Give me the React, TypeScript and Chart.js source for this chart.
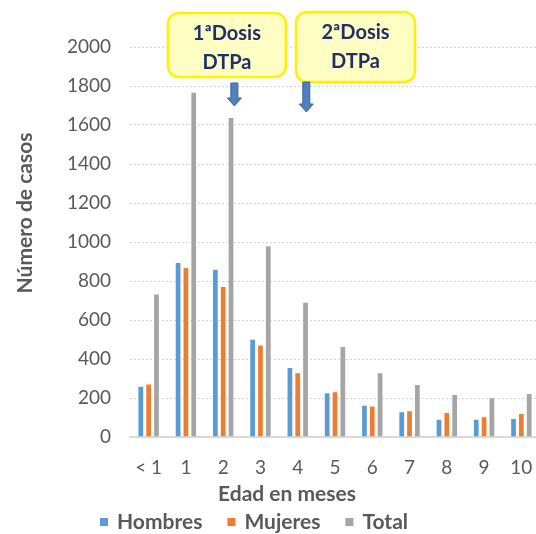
import React, { useEffect, useRef } from "react";
import { Chart, registerables } from "chart.js";

Chart.register(...registerables);

const categories = ["< 1", "1", "2", "3", "4", "5", "6", "7", "8", "9", "10"];
const hombres = [263, 897, 863, 504, 359, 229, 166, 132, 94, 94, 97];
const mujeres = [275, 872, 774, 475, 332, 234, 161, 137, 128, 106, 123];
const total = [736, 1770, 1641, 983, 694, 467, 332, 272, 221, 204, 226];
const seriesNames = ["Hombres", "Mujeres", "Total"];
const seriesColors = ["#5B9BD5", "#ED7D31", "#A5A5A5"];
const yMin = 0;
const yMax = 2000;
const yStep = 200;
const yTitle = "Número de casos";
const xTitle = "Edad en meses";
const doseLabels = [["1ªDosis", "DTPa"], ["2ªDosis", "DTPa"]];
const doseMonthIndex = [2, 4];

const FONT = "Lato, 'Open Sans', sans-serif";
const TEXT = "#595959";

const overlayPlugin = {
  id: "overlay",
  afterDraw(chart: any) {
    const ctx = chart.ctx;
    const xs = chart.scales.x;
    const cw = xs.width / categories.length;
    ctx.save();

    // axis titles
    ctx.fillStyle = TEXT;
    ctx.font = `bold 21px ${FONT}`;
    ctx.textAlign = "center";
    ctx.textBaseline = "middle";
    ctx.save();
    ctx.translate(25, 213);
    ctx.rotate(-Math.PI / 2);
    ctx.fillText(yTitle, 0, 0);
    ctx.restore();
    ctx.fillText(xTitle, 287, 494);

    // legend
    let lx = 100;
    const ly = 522;
    ctx.textAlign = "left";
    seriesNames.forEach((n, i) => {
      ctx.fillStyle = seriesColors[i];
      ctx.fillRect(lx, ly - 4, 8, 8);
      ctx.fillStyle = TEXT;
      ctx.fillText(n, lx + 17, ly);
      lx += 17 + ctx.measureText(n).width + 25;
    });

    // dose annotations
    const boxes = [
      { dc: 0.1, w: 118, top: 13, h: 64, ac: 0.3, aTop: 83, aTip: 106 },
      { dc: 1.55, w: 119, top: 12, h: 70, ac: 0.23, aTop: 82, aTip: 112 },
    ];
    doseLabels.forEach((lines, i) => {
      const b = boxes[i];
      const base = xs.getPixelForValue(doseMonthIndex[i]);
      const cx = base + b.dc * cw;
      ctx.beginPath();
      (ctx as any).roundRect(cx - b.w / 2, b.top, b.w, b.h, 11);
      ctx.fillStyle = "#FFFFC4";
      ctx.fill();
      ctx.lineWidth = 2.5;
      ctx.strokeStyle = "#FFF200";
      ctx.stroke();
      ctx.fillStyle = "#1F2F6B";
      ctx.font = `bold 20px ${FONT}`;
      ctx.textAlign = "center";
      ctx.textBaseline = "middle";
      ctx.fillText(lines[0], cx, b.top + 21);
      ctx.fillText(lines[1], cx, b.top + 50);

      // arrow
      const ax = base + b.ac * cw;
      const sw = 3.5;
      const hw = 7;
      const hh = 8;
      ctx.beginPath();
      ctx.moveTo(ax - sw, b.aTop);
      ctx.lineTo(ax + sw, b.aTop);
      ctx.lineTo(ax + sw, b.aTip - hh);
      ctx.lineTo(ax + hw, b.aTip - hh);
      ctx.lineTo(ax, b.aTip);
      ctx.lineTo(ax - hw, b.aTip - hh);
      ctx.lineTo(ax - sw, b.aTip - hh);
      ctx.closePath();
      ctx.fillStyle = "#4F81BD";
      ctx.fill();
      ctx.lineWidth = 1;
      ctx.strokeStyle = "#3A669A";
      ctx.stroke();
    });
    ctx.restore();
  },
};

export default function App() {
  const ref = useRef<HTMLCanvasElement>(null);
  useEffect(() => {
    document.body.style.margin = "0";
    document.body.style.overflow = "hidden";
    const data = [hombres, mujeres, total];
    const chart = new Chart(ref.current!, {
      type: "bar",
      data: {
        labels: categories,
        datasets: seriesNames.map((n, i) => ({
          label: n,
          data: data[i],
          backgroundColor: seriesColors[i],
          borderColor: "rgba(255,255,255,0.55)",
          borderWidth: 1,
          categoryPercentage: 0.63,
          barPercentage: 0.86,
        })),
      },
      options: {
        responsive: false,
        animation: false,
        layout: { padding: { top: 47, left: 0, right: 0, bottom: 0 } },
        plugins: { legend: { display: false }, tooltip: { enabled: false } },
        scales: {
          x: {
            grid: { display: false, drawTicks: false },
            border: { display: true, color: "#D9D9D9", width: 2 },
            ticks: { color: TEXT, font: { family: FONT, size: 19 }, padding: 19, maxRotation: 0, autoSkip: false },
            afterFit: (s: any) => { s.height = 97; s.paddingRight = 0; s.paddingLeft = 0; },
          },
          y: {
            min: yMin,
            max: yMax,
            grid: { color: "#D4D4D4", lineWidth: 1, drawTicks: false },
            border: { display: false, dash: [2, 2] },
            ticks: {
              stepSize: yStep,
              color: TEXT,
              font: { family: FONT, size: 19 },
              padding: 19,
              callback: (v: any) => String(v),
            },
            afterFit: (s: any) => { s.width = 130; },
          },
        },
      },
      plugins: [overlayPlugin],
    });
    return () => chart.destroy();
  }, []);
  return <canvas ref={ref} width={540} height={534} style={{ display: "block" }} />;
}
